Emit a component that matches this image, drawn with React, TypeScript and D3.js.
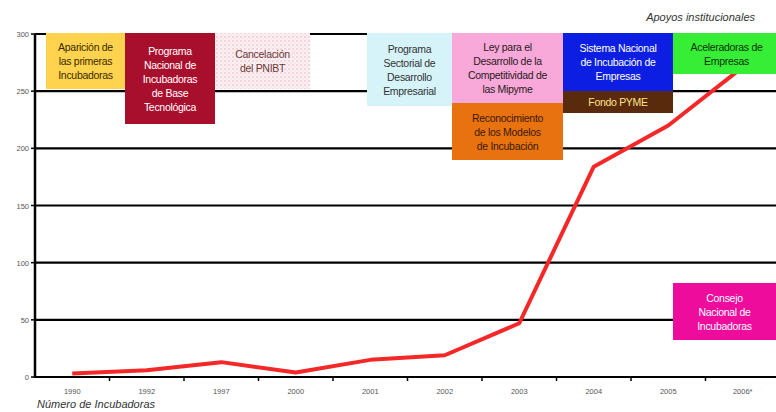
import React from "react";
import * as d3 from "d3";

// data
const years = ["1990", "1992", "1997", "2000", "2001", "2002", "2003", "2004", "2005", "2006*"];
const incubadoras = [3, 6, 13, 4, 15, 19, 47, 184, 220, 271];
const yTicks = [0, 50, 100, 150, 200, 250, 300];

const notes = [
  { lines: ["Aparición de", "las primeras", "Incubadoras"], fill: "#ffd34e", color: "#3a2a00" },
  { lines: ["Programa", "Nacional de", "Incubadoras", "de Base", "Tecnológica"], fill: "#a80f2c", color: "#ffffff" },
  { lines: ["Cancelación", "del PNIBT"], fill: "url(#dots)", color: "#6a3a3a" },
  { lines: ["Programa", "Sectorial de", "Desarrollo", "Empresarial"], fill: "#d5f3f9", color: "#333333" },
  { lines: ["Ley para el", "Desarrollo de la", "Competitividad de", "las Mipyme"], fill: "#f8a9d9", color: "#2a1a20" },
  { lines: ["Reconocimiento", "de los Modelos", "de Incubación"], fill: "#e8720f", color: "#3a1a00" },
  { lines: ["Sistema Nacional", "de Incubación de", "Empresas"], fill: "#0c1ee2", color: "#ffffff" },
  { lines: ["Fondo PYME"], fill: "#5a2a0c", color: "#ffe48a" },
  { lines: ["Aceleradoras de", "Empresas"], fill: "#36ee36", color: "#10300a" },
  { lines: ["Consejo", "Nacional de", "Incubadoras"], fill: "#ee0c9c", color: "#ffffff" },
];

// box layout in px (x0, y0, x1, y1)
const boxes = [
  [46, 33, 125, 89],
  [125, 33, 215, 124],
  [215, 33, 310, 89],
  [367, 33, 452, 106],
  [452, 33, 563, 103],
  [452, 103, 563, 160],
  [563, 33, 673, 91],
  [563, 91, 673, 113],
  [673, 33, 780, 74],
  [673, 283, 776, 340],
];

const W = 776;
const H = 412;

export default function App() {
  const x = d3.scaleBand().domain(years).range([35, 780]);
  const y = d3.scaleLinear().domain([0, 300]).range([377, 34]);

  const line = d3
    .line<number>()
    .x((_, i) => (x(years[i]) as number) + x.bandwidth() / 2)
    .y((d) => y(d));

  const font = "'Liberation Sans', Arial, sans-serif";

  return (
    <svg width={W} height={H} style={{ position: "absolute", left: 0, top: 0, background: "#fff" }}>
      <defs>
        <pattern id="dots" width="4" height="4" patternUnits="userSpaceOnUse">
          <rect width="4" height="4" fill="#fdf1f3" />
          <circle cx="1" cy="1" r="0.7" fill="#e8a0b0" />
          <circle cx="3" cy="3" r="0.5" fill="#f0c0c8" />
        </pattern>
      </defs>

      {/* gridlines */}
      {yTicks.map((t) => (
        <line key={t} x1={35} x2={W} y1={y(t)} y2={y(t)} stroke="#000" strokeWidth={2.2} />
      ))}
      {/* y axis */}
      <line x1={35} x2={35} y1={y(300)} y2={y(0) + 1} stroke="#000" strokeWidth={2.5} />
      {yTicks.map((t) => (
        <g key={"yt" + t}>
          <line x1={31} x2={35} y1={y(t)} y2={y(t)} stroke="#000" strokeWidth={1.5} />
          <text x={29} y={y(t) + 3} fontSize={7.5} fill="#555" textAnchor="end" fontFamily={font}>
            {t}
          </text>
        </g>
      ))}
      {/* x ticks */}
      {years.map((yr) => (
        <g key={yr}>
          <line x1={(x(yr) as number) + x.bandwidth()} x2={(x(yr) as number) + x.bandwidth()} y1={377} y2={381} stroke="#000" strokeWidth={1.5} />
          <text x={(x(yr) as number) + x.bandwidth() / 2} y={394} fontSize={7.5} fill="#555" textAnchor="middle" fontFamily={font}>
            {yr}
          </text>
        </g>
      ))}

      {/* series */}
      <path d={line(incubadoras) || ""} fill="none" stroke="#f42828" strokeWidth={4} strokeLinejoin="round" />

      {/* annotation boxes */}
      {notes.map((n, i) => {
        const [x0, y0, x1, y1] = boxes[i];
        const cx = (x0 + x1) / 2;
        const lh = 14;
        const top = (y0 + y1) / 2 - ((n.lines.length - 1) * lh) / 2 + 4;
        return (
          <g key={i}>
            <rect x={x0} y={y0} width={x1 - x0} height={y1 - y0} fill={n.fill} />
            <text fontSize={10.5} fill={n.color} textAnchor="middle" fontFamily={font} letterSpacing={-0.3}>
              {n.lines.map((l, j) => (
                <tspan key={j} x={cx} y={top + j * lh}>
                  {l}
                </tspan>
              ))}
            </text>
          </g>
        );
      })}

      <text x={755} y={21} fontSize={11} fontStyle="italic" fill="#333" textAnchor="end" fontFamily={font}>
        Apoyos institucionales
      </text>
      <text x={37} y={408} fontSize={11} fontStyle="italic" fill="#333" fontFamily={font}>
        Número de Incubadoras
      </text>
    </svg>
  );
}
